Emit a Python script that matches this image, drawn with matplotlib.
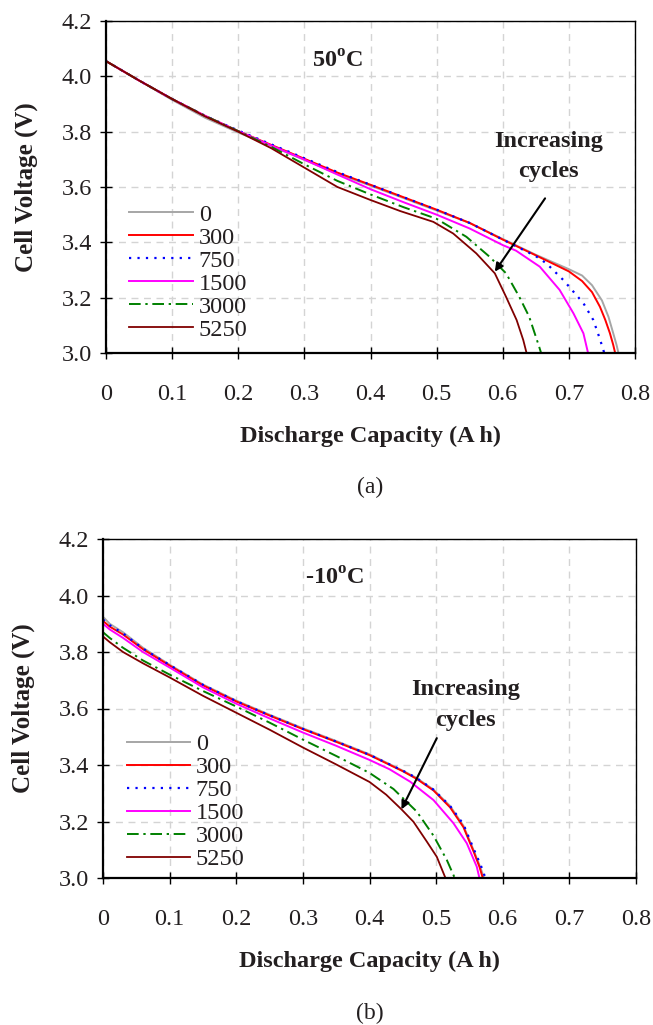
import matplotlib
matplotlib.use("Agg")
import matplotlib.pyplot as plt
from matplotlib.ticker import FormatStrFormatter, FuncFormatter

plt.rcParams['font.family'] = ['Liberation Serif', 'DejaVu Serif']
plt.rcParams['mathtext.fontset'] = 'custom'
plt.rcParams['mathtext.rm'] = 'Liberation Serif'
plt.rcParams['mathtext.bf'] = 'Liberation Serif:bold'

# ---- data, panel (a) 50 C ----
cap_a_0 = [0, 0.05, 0.1, 0.15, 0.2, 0.25, 0.3, 0.35, 0.4, 0.45, 0.5, 0.55, 0.6, 0.65, 0.7, 0.72, 0.735, 0.75, 0.76, 0.767, 0.772, 0.775]
volt_a_0 = [4.055, 3.985, 3.915, 3.850, 3.797, 3.748, 3.698, 3.648, 3.605, 3.560, 3.515, 3.470, 3.412, 3.355, 3.303, 3.280, 3.245, 3.19, 3.13, 3.072, 3.03, 3.0]
cap_a_300 = [0, 0.05, 0.1, 0.15, 0.2, 0.25, 0.3, 0.35, 0.4, 0.45, 0.5, 0.55, 0.6, 0.65, 0.7, 0.72, 0.735, 0.747, 0.755, 0.762, 0.767, 0.77]
volt_a_300 = [4.055, 3.985, 3.918, 3.857, 3.802, 3.752, 3.702, 3.652, 3.608, 3.563, 3.518, 3.470, 3.41, 3.353, 3.295, 3.26, 3.22, 3.167, 3.12, 3.072, 3.03, 3.0]
cap_a_750 = [0, 0.05, 0.1, 0.15, 0.2, 0.25, 0.3, 0.35, 0.4, 0.45, 0.5, 0.55, 0.6, 0.65, 0.666, 0.6915, 0.722, 0.737, 0.747, 0.7535]
volt_a_750 = [4.055, 3.985, 3.918, 3.857, 3.804, 3.754, 3.704, 3.654, 3.608, 3.563, 3.518, 3.470, 3.41, 3.350, 3.324, 3.264, 3.18, 3.119, 3.05, 3.0]
cap_a_1500 = [0, 0.05, 0.1, 0.15, 0.2, 0.25, 0.3, 0.35, 0.4, 0.45, 0.5, 0.55, 0.6, 0.62, 0.656, 0.686, 0.707, 0.722, 0.729]
volt_a_1500 = [4.055, 3.985, 3.918, 3.857, 3.802, 3.750, 3.699, 3.645, 3.592, 3.545, 3.50, 3.45, 3.39, 3.37, 3.312, 3.228, 3.143, 3.071, 3.0]
cap_a_3000 = [0, 0.05, 0.1, 0.15, 0.2, 0.25, 0.3, 0.35, 0.4, 0.45, 0.5, 0.545, 0.58, 0.605, 0.625, 0.64, 0.655, 0.658]
volt_a_3000 = [4.055, 3.985, 3.918, 3.857, 3.802, 3.745, 3.682, 3.622, 3.573, 3.527, 3.485, 3.42, 3.348, 3.288, 3.203, 3.131, 3.023, 3.0]
cap_a_5250 = [0, 0.05, 0.1, 0.15, 0.2, 0.25, 0.3, 0.35, 0.4, 0.445, 0.495, 0.525, 0.56, 0.588, 0.605, 0.621, 0.631, 0.636]
volt_a_5250 = [4.055, 3.985, 3.918, 3.855, 3.80, 3.740, 3.670, 3.600, 3.553, 3.513, 3.474, 3.432, 3.36, 3.288, 3.203, 3.119, 3.047, 3.0]

# ---- data, panel (b) -10 C ----
cap_b_0 = [0, 0.01, 0.03, 0.06, 0.1, 0.15, 0.2, 0.25, 0.3, 0.35, 0.4, 0.45, 0.47, 0.496, 0.521, 0.541, 0.556, 0.566, 0.572]
volt_b_0 = [3.925, 3.90, 3.87, 3.815, 3.755, 3.685, 3.628, 3.578, 3.53, 3.485, 3.438, 3.38, 3.355, 3.313, 3.255, 3.185, 3.10, 3.04, 3.0]
cap_b_300 = [0, 0.01, 0.03, 0.06, 0.1, 0.15, 0.2, 0.25, 0.3, 0.35, 0.4, 0.45, 0.47, 0.496, 0.521, 0.541, 0.556, 0.565, 0.570]
volt_b_300 = [3.91, 3.89, 3.862, 3.81, 3.752, 3.682, 3.625, 3.575, 3.527, 3.482, 3.435, 3.378, 3.352, 3.31, 3.25, 3.18, 3.095, 3.04, 3.0]
cap_b_750 = [0, 0.01, 0.03, 0.06, 0.1, 0.15, 0.2, 0.25, 0.3, 0.35, 0.4, 0.45, 0.47, 0.496, 0.521, 0.541, 0.556, 0.567, 0.574]
volt_b_750 = [3.915, 3.895, 3.866, 3.812, 3.754, 3.684, 3.626, 3.576, 3.528, 3.483, 3.436, 3.38, 3.355, 3.313, 3.255, 3.19, 3.105, 3.045, 3.0]
cap_b_1500 = [0, 0.01, 0.03, 0.06, 0.1, 0.15, 0.2, 0.25, 0.3, 0.35, 0.4, 0.43, 0.461, 0.496, 0.526, 0.546, 0.561, 0.565]
volt_b_1500 = [3.90, 3.88, 3.85, 3.80, 3.745, 3.675, 3.617, 3.565, 3.515, 3.468, 3.418, 3.385, 3.341, 3.276, 3.194, 3.123, 3.04, 3.0]
cap_b_3000 = [0, 0.01, 0.03, 0.06, 0.1, 0.15, 0.2, 0.25, 0.3, 0.35, 0.4, 0.436, 0.471, 0.496, 0.516, 0.528]
volt_b_3000 = [3.87, 3.85, 3.815, 3.77, 3.72, 3.662, 3.607, 3.550, 3.49, 3.432, 3.372, 3.315, 3.235, 3.15, 3.064, 3.0]
cap_b_5250 = [0, 0.01, 0.03, 0.06, 0.1, 0.15, 0.2, 0.25, 0.3, 0.35, 0.4, 0.425, 0.448, 0.466, 0.486, 0.501, 0.514]
volt_b_5250 = [3.855, 3.835, 3.80, 3.76, 3.71, 3.645, 3.585, 3.525, 3.462, 3.402, 3.340, 3.295, 3.243, 3.199, 3.129, 3.075, 3.0]

cycles = ['0', '300', '750', '1500', '3000', '5250']
colors = ['#a6a6a6', '#ff0000', '#0000ff', '#ff00ff', '#008000', '#800000']
styles = ['-', '-', (0, (1, 2.8)), '-', (0, (6, 2.4, 1.2, 2.4)), '-']
widths = [1.4, 1.4, 1.6, 1.4, 1.4, 1.3]

panel_a = [(cap_a_0, volt_a_0), (cap_a_300, volt_a_300), (cap_a_750, volt_a_750),
           (cap_a_1500, volt_a_1500), (cap_a_3000, volt_a_3000), (cap_a_5250, volt_a_5250)]
panel_b = [(cap_b_0, volt_b_0), (cap_b_300, volt_b_300), (cap_b_750, volt_b_750),
           (cap_b_1500, volt_b_1500), (cap_b_3000, volt_b_3000), (cap_b_5250, volt_b_5250)]

txt = '#231f20'


def draw_panel(ax, series, temp, temp_xy, note_xy, arrow_tail, arrow_head, leg_y):
    for (x, v), lab, c, ls, lw in zip(series, cycles, colors, styles, widths):
        ax.plot(x, v, color=c, linestyle=ls, linewidth=lw, label=lab)
    ax.set_xlim(0, 0.8)
    ax.set_ylim(3.0, 4.2)
    ax.set_xticks([i / 10 for i in range(9)])
    ax.set_yticks([3.0, 3.2, 3.4, 3.6, 3.8, 4.0, 4.2])
    ax.xaxis.set_major_formatter(FuncFormatter(lambda v, p: '0' if v == 0 else '%.1f' % v))
    ax.yaxis.set_major_formatter(FormatStrFormatter('%.1f'))
    ax.grid(True, color='#d4d4d4', linestyle=(0, (5, 4)), linewidth=1.0)
    ax.set_axisbelow(True)
    ax.tick_params(direction='inout', length=8, width=1.0, labelsize=17.5,
                   labelcolor=txt, pad=6)
    ax.tick_params(axis='x', pad=18)
    for s in ax.spines.values():
        s.set_linewidth(1.0)
    ax.spines['left'].set_linewidth(1.6)
    ax.spines['bottom'].set_linewidth(1.6)
    ax.set_xlabel('Discharge Capacity (A h)', fontsize=17.5, fontweight='bold',
                  color=txt, labelpad=15)
    ax.set_ylabel('Cell Voltage (V)', fontsize=18, fontweight='bold',
                  color=txt, labelpad=17)
    ax.text(temp_xy[0], temp_xy[1], temp, fontsize=17.5, fontweight='bold',
            color=txt, ha='center', va='center')
    ax.text(note_xy[0], note_xy[1], 'Increasing\ncycles', fontsize=17.5,
            fontweight='bold', color=txt, ha='center', va='center',
            linespacing=1.6)
    ax.annotate('', xy=arrow_head, xytext=arrow_tail,
                arrowprops=dict(arrowstyle='-|>', color='black', lw=1.5,
                                mutation_scale=12, shrinkA=0, shrinkB=0))
    leg = ax.legend(loc='lower left', bbox_to_anchor=(0.035, leg_y), frameon=False,
                    fontsize=17.5, handlelength=2.6, handletextpad=0.25,
                    labelspacing=0.04, borderpad=0.2, borderaxespad=0.0)
    for t in leg.get_texts():
        t.set_color(txt)


fig = plt.figure(figsize=(6.53, 10.25), dpi=100)
ax1 = fig.add_axes([106 / 653, 1 - 353 / 1025, 529 / 653, 332 / 1025])
ax2 = fig.add_axes([103 / 653, 1 - 878 / 1025, 533 / 653, 339 / 1025])

draw_panel(ax1, panel_a, r'50$^{\mathbf{o}}$C', (0.35, 4.053), (0.669, 3.71),
           (0.664, 3.559), (0.588, 3.294), 0.022)
draw_panel(ax2, panel_b, r'-10$^{\mathbf{o}}$C', (0.348, 4.061), (0.544, 3.612),
           (0.501, 3.495), (0.448, 3.243), 0.008)

fig.text(370 / 653, 1 - 487 / 1025, '(a)', fontsize=17, color=txt, ha='center', va='center')
fig.text(370 / 653, 1 - 1013 / 1025, '(b)', fontsize=17, color=txt, ha='center', va='center')

fig.savefig('out.png', dpi=100)
